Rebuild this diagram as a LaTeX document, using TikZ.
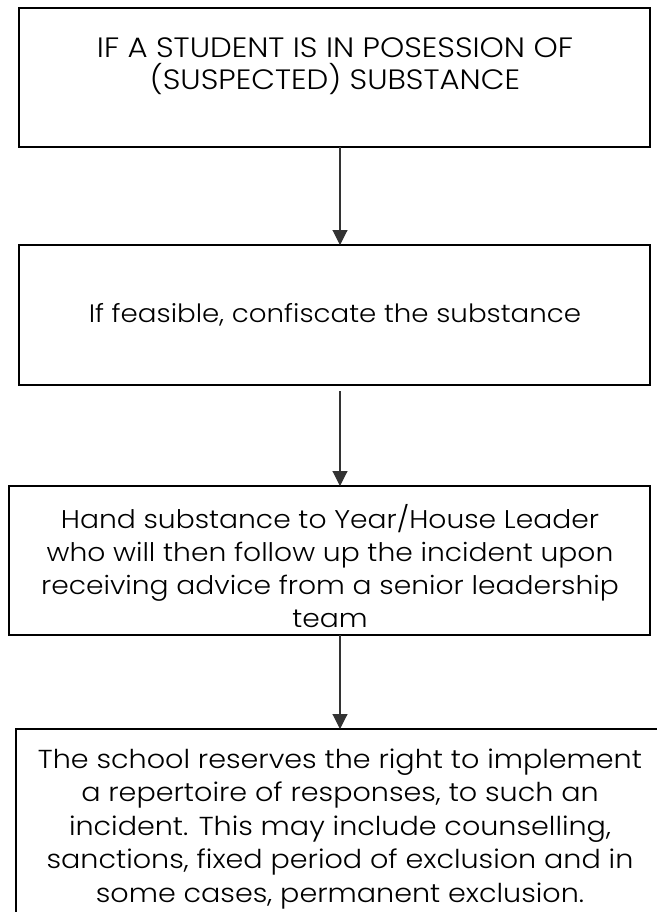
\documentclass[tikz,border=0pt]{standalone}
\usepackage{fontspec}
\setmainfont{Poppins Light}[FakeStretch=1.1]
\usetikzlibrary{arrows.meta}
\begin{document}
\begin{tikzpicture}[x=1pt,y=-1pt,
  boxst/.style={draw=black,line width=2.2pt,rectangle,inner sep=0pt,outer sep=0pt},
  txt/.style={align=center,inner sep=0pt,text=black},
  arr/.style={draw=black!80,line width=1.1pt,-{Triangle[length=15pt,width=15pt]}}]
\useasboundingbox (0,0) rectangle (656,912);
\coordinate (ax) at (340,0);
\node[boxst,minimum width=631pt,minimum height=139pt] (b1) at (334.5,77.5) {};
\node[boxst,minimum width=631pt,minimum height=140pt] (b2) at (334.5,315) {};
\node[boxst,minimum width=641pt,minimum height=149pt] (b3) at (329.5,560.5) {};
\node[boxst,minimum width=648pt,minimum height=201pt] (b4) at (340,829.5) {};
\node[txt,font=\fontsize{28}{32}\selectfont] (t1) at (335,66) {IF A STUDENT IS IN POSESSION OF\\(SUSPECTED) SUBSTANCE};
\node[txt,font=\fontsize{25.2}{33}\selectfont] (t2) at (335,315) {If feasible, confiscate the substance};
\node[txt,font=\fontsize{25.6}{33}\selectfont] (t3) at (330,566) {Hand substance to Year/House Leader\\who will then follow up the incident upon\\receiving advice from a senior leadership\\team};
\node[txt,font=\fontsize{26}{33.5}\selectfont] (t4) at (340,829) {The school reserves the right to implement\\a repertoire of responses, to such an\\incident. This may include counselling,\\sanctions, fixed period of exclusion and in\\some cases, permanent exclusion.};
\draw[arr] (b1.south -| ax) -- (b2.north -| ax);
\draw[arr,shorten <=6pt] (b2.south -| ax) -- (b3.north -| ax);
\draw[arr] (b3.south -| ax) -- (b4.north -| ax);
\end{tikzpicture}
\end{document}
